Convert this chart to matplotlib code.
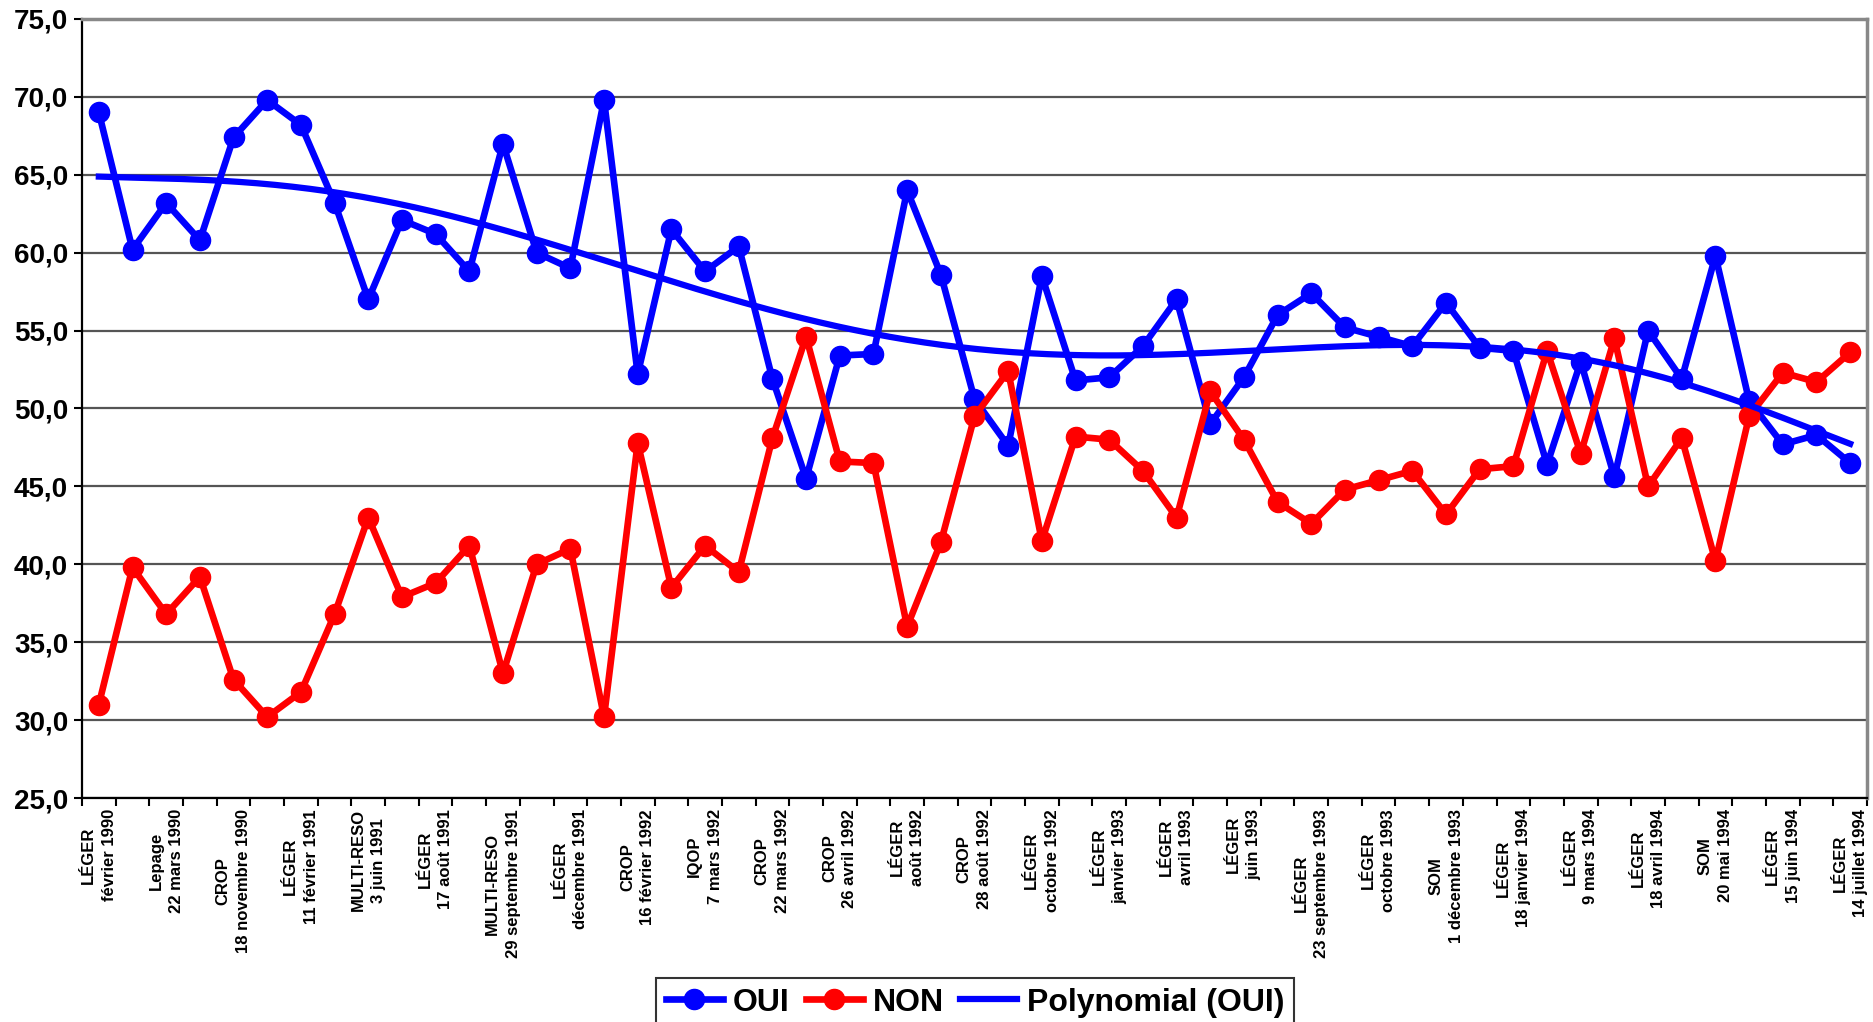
import numpy as np
import matplotlib
matplotlib.use("Agg")
import matplotlib.pyplot as plt
from matplotlib.ticker import FuncFormatter, FixedLocator

plt.rcParams['font.family'] = ['Liberation Sans', 'DejaVu Sans']
plt.rcParams['font.weight'] = 'bold'

# --- data ---------------------------------------------------------------
tick_labels = [
    "LÉGER\nfévrier 1990", "Lepage\n22 mars 1990", "CROP\n18 novembre 1990",
    "LÉGER\n11 février 1991", "MULTI-RESO\n3 juin 1991", "LÉGER\n17 août 1991",
    "MULTI-RESO\n29 septembre 1991", "LÉGER\ndécembre 1991", "CROP\n16 février 1992",
    "IQOP\n7 mars 1992", "CROP\n22 mars 1992", "CROP\n26 avril 1992",
    "LÉGER\naoût 1992", "CROP\n28 août 1992", "LÉGER\noctobre 1992",
    "LÉGER\njanvier 1993", "LÉGER\navril 1993", "LÉGER\njuin 1993",
    "LÉGER\n23 septembre 1993", "LÉGER\noctobre 1993", "SOM\n1 décembre 1993",
    "LÉGER\n18 janvier 1994", "LÉGER\n9 mars 1994", "LÉGER\n18 avril 1994",
    "SOM\n20 mai 1994", "LÉGER\n15 juin 1994", "LÉGER\n14 juillet 1994",
]

oui = [69.0, 60.2, 63.2, 60.8, 67.4, 69.8, 68.2, 63.2, 57.0, 62.1,
       61.2, 58.8, 67.0, 60.0, 59.0, 69.8, 52.2, 61.5, 58.8, 60.4,
       51.9, 45.5, 53.4, 53.5, 64.0, 58.6, 50.6, 47.6, 58.5, 51.8,
       52.0, 54.0, 57.0, 49.0, 52.0, 56.0, 57.4, 55.2, 54.6, 54.0,
       56.8, 53.9, 53.7, 46.4, 53.0, 45.6, 55.0, 51.9, 59.8, 50.5,
       47.7, 48.3, 46.5]

non = [31.0, 39.8, 36.8, 39.2, 32.6, 30.2, 31.8, 36.8, 43.0, 37.9,
       38.8, 41.2, 33.0, 40.0, 41.0, 30.2, 47.8, 38.5, 41.2, 39.5,
       48.1, 54.6, 46.6, 46.5, 36.0, 41.4, 49.5, 52.4, 41.5, 48.2,
       48.0, 46.0, 43.0, 51.1, 48.0, 44.0, 42.6, 44.8, 45.4, 46.0,
       43.2, 46.1, 46.3, 53.7, 47.1, 54.5, 45.0, 48.1, 40.2, 49.5,
       52.3, 51.7, 53.6]

trend_order = 6

# --- figure -------------------------------------------------------------
W, H = 1873, 1022
fig = plt.figure(figsize=(W / 100, H / 100), dpi=100)
ax = fig.add_axes([82 / W, 1 - 798 / H, (1867 - 82) / W, (798 - 19) / H])

x = np.arange(len(oui))
coef = np.polyfit(x, oui, trend_order)
xs = np.linspace(0, len(oui) - 1, 300)
trend = np.polyval(coef, xs)

blue = '#0000FF'
red = '#FF0000'
l1, = ax.plot(x, oui, color=blue, lw=4.8, marker='o', ms=14.5, zorder=3,
              label='OUI', solid_joinstyle='round')
l2, = ax.plot(x, non, color=red, lw=4.8, marker='o', ms=14.5, zorder=4,
              label='NON', solid_joinstyle='round')
l3, = ax.plot(xs, trend, color=blue, lw=4.5, zorder=5,
              label='Polynomial (OUI)')

ax.set_xlim(-0.5, len(oui) - 0.5)
ax.set_ylim(25, 75)
ax.set_yticks(np.arange(25, 76, 5))
ax.yaxis.set_major_formatter(FuncFormatter(lambda v, p: f"{v:.1f}".replace('.', ',')))
ax.grid(axis='y', color='#555555', lw=1.6, zorder=1)
ax.set_axisbelow(True)

ax.set_xticks(np.arange(0, len(oui), 2))
ax.set_xticklabels(tick_labels, rotation=90, fontsize=12, fontweight='bold',
                   ha='center', va='top', multialignment='center',
                   linespacing=1.45)
ax.xaxis.set_minor_locator(FixedLocator(np.arange(-0.5, len(oui), 1)))
ax.tick_params(axis='x', which='major', length=0, pad=8)
ax.tick_params(axis='x', which='minor', length=6, width=1.5, direction='out')
ax.tick_params(axis='y', which='major', length=6, width=1.5, direction='out',
               labelsize=20, pad=4)
for t in ax.get_yticklabels():
    t.set_fontweight('bold')

for s in ['left', 'bottom']:
    ax.spines[s].set_color('black')
    ax.spines[s].set_linewidth(1.6)
for s in ['top', 'right']:
    ax.spines[s].set_color('#888888')
    ax.spines[s].set_linewidth(2.5)

leg = fig.legend(handles=[l1, l2, l3], loc='upper center',
                 bbox_to_anchor=(975 / W, 1 - 978 / H), ncol=3,
                 prop={'weight': 'bold', 'size': 23}, frameon=True,
                 fancybox=False, edgecolor='black', handlelength=1.8,
                 handletextpad=0.3, columnspacing=0.5, borderpad=0.3,
                 borderaxespad=0)
leg.get_frame().set_linewidth(1.5)

fig.savefig('out.png', dpi=100)
